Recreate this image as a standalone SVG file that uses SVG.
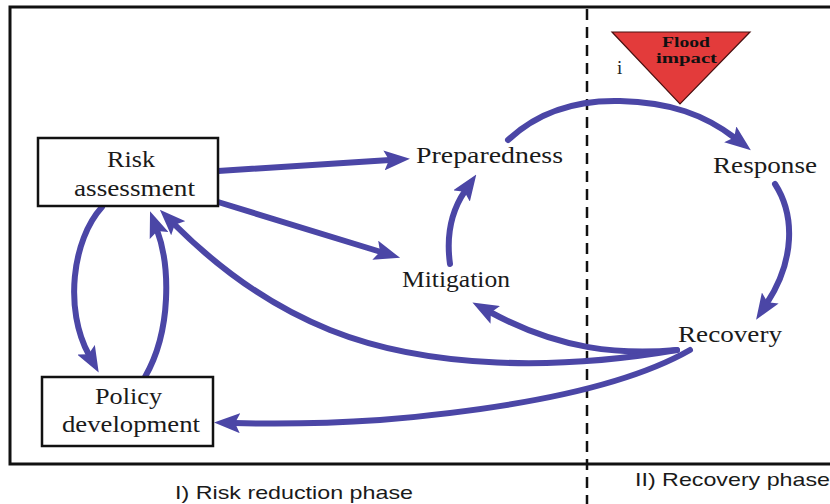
<svg xmlns="http://www.w3.org/2000/svg" width="830" height="504" viewBox="0 0 830 504">
<style>
.lbl{font-family:"Liberation Serif","Times New Roman",serif;font-size:23px;fill:#1a1a1a;text-anchor:start}
.phase{font-family:"Liberation Sans",Arial,sans-serif;font-size:19px;fill:#1a1a1a}
.box{fill:#fff;stroke:#111;stroke-width:2.5}
.con{fill:none;stroke:#4b46a6;stroke-width:6;stroke-linecap:round;marker-end:url(#ah)}
.fl{font-family:"Liberation Serif","Times New Roman",serif;font-weight:bold;font-size:15px;fill:#111}
</style>
<defs>
<marker id="ah" viewBox="0 0 26 20" refX="6" refY="10" markerWidth="26" markerHeight="20" markerUnits="userSpaceOnUse" orient="auto">
<path d="M0,0 L26,10 L0,20 L5,10 z" fill="#4b46a6"/>
</marker>
</defs>
<rect width="830" height="504" fill="#fff"/>
<g id="frame">
<path d="M834,7 H10 V464 H834" fill="none" stroke="#111" stroke-width="3"/>
<line x1="587" y1="9" x2="587" y2="504" stroke="#111" stroke-width="2.5" stroke-dasharray="11,7"/>
</g>
<g id="connectors">
<path class="con" d="M218,171 L390,160"/>
<path class="con" d="M218,202 L381,252"/>
<path class="con" d="M450,264 C446,235 452,210 465,191"/>
<path class="con" d="M508,140 C540,110 580,100 620,101 C670,102 705,115 735,138"/>
<path class="con" d="M775,184 C795,215 795,260 767,303"/>
<path class="con" d="M677,350 C620,355 560,350 490,312"/>
<path class="con" d="M677,350 C560,370 430,370 330,330 C260,302 210,260 174,224"/>
<path class="con" d="M690,350 C620,390 500,410 380,420 C320,424 270,424 234,423"/>
<path class="con" d="M102,207 C72,240 64,310 89,355"/>
<path class="con" d="M145,377 C172,330 170,265 157,230"/>
</g>
<g id="risk-assessment">
<rect class="box" x="38" y="138" width="180" height="68"/>
<text class="lbl" x="107" y="167" textLength="48" lengthAdjust="spacingAndGlyphs">Risk</text>
<text class="lbl" x="74" y="196" textLength="121" lengthAdjust="spacingAndGlyphs">assessment</text>
</g>
<g id="policy-development">
<rect class="box" x="42" y="377" width="171" height="69"/>
<text class="lbl" x="95" y="404" textLength="67" lengthAdjust="spacingAndGlyphs">Policy</text>
<text class="lbl" x="62" y="432" textLength="138" lengthAdjust="spacingAndGlyphs">development</text>
</g>
<g id="preparedness">
<text class="lbl" x="416" y="163" textLength="147" lengthAdjust="spacingAndGlyphs">Preparedness</text>
</g>
<g id="mitigation">
<text class="lbl" x="402" y="287" textLength="108" lengthAdjust="spacingAndGlyphs">Mitigation</text>
</g>
<g id="response">
<text class="lbl" x="713" y="173" textLength="104" lengthAdjust="spacingAndGlyphs">Response</text>
</g>
<g id="recovery">
<text class="lbl" x="678" y="342" textLength="104" lengthAdjust="spacingAndGlyphs">Recovery</text>
</g>
<g id="flood-impact">
<polygon points="612,32 750,32 680,104" fill="#e33b3b" stroke="#4a1010" stroke-width="1.2"/>
<text class="fl" x="662" y="47" textLength="48" lengthAdjust="spacingAndGlyphs">Flood</text>
<text class="fl" x="656" y="63" textLength="61" lengthAdjust="spacingAndGlyphs">impact</text>
<text x="617" y="74" font-family="'Liberation Serif','Times New Roman',serif" font-size="19" fill="#222">i</text>
</g>
<g id="phases">
<text class="phase" x="175" y="499" textLength="238" lengthAdjust="spacingAndGlyphs">I) Risk reduction phase</text>
<text class="phase" x="635" y="486" textLength="195" lengthAdjust="spacingAndGlyphs">II) Recovery phase</text>
</g>
</svg>
